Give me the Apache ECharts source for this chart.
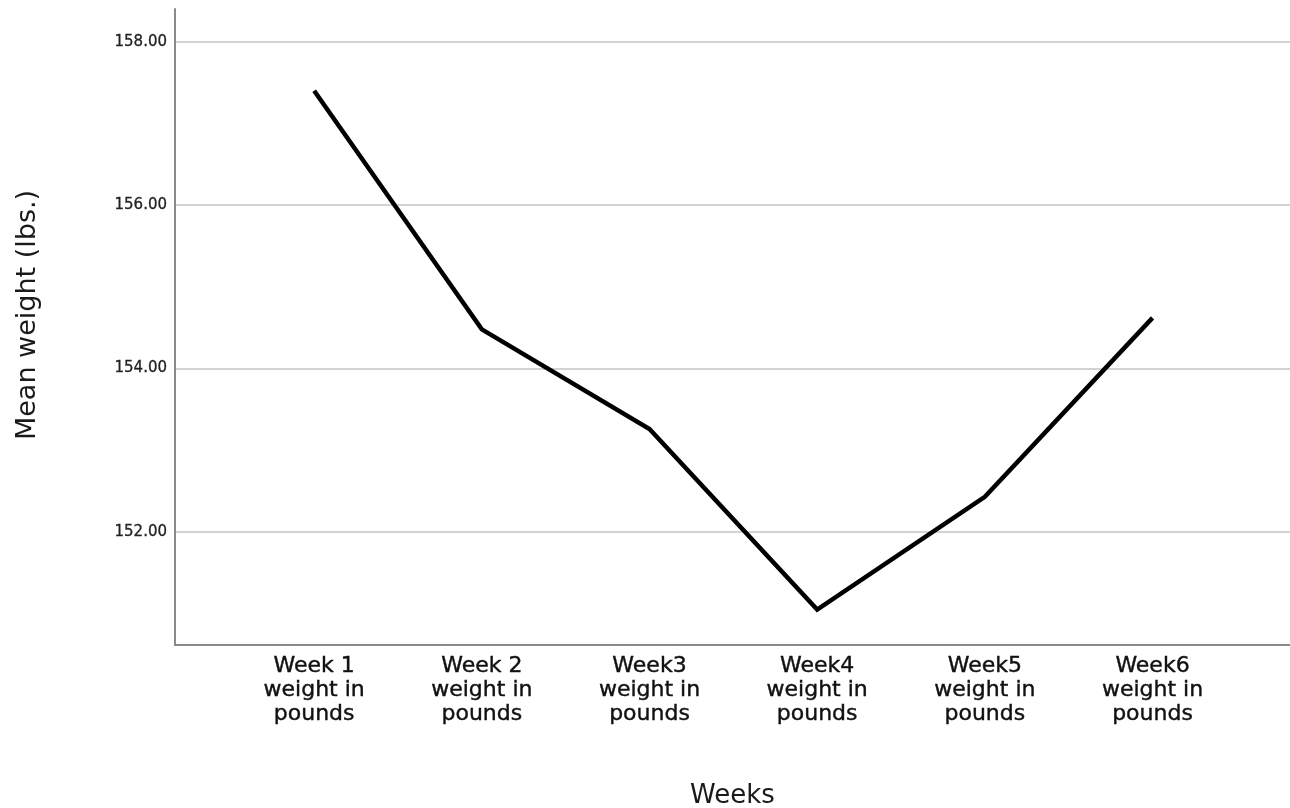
<!DOCTYPE html>
<html>
<head>
<meta charset="utf-8">
<script src="https://cdn.jsdelivr.net/npm/echarts@6/dist/echarts.min.js"></script>
<style>
html,body{margin:0;padding:0;background:#fff;}
#chart{width:1290px;height:808px;}
</style>
</head>
<body>
<div id="chart"></div>
<script>
const categories = [
  'Week 1\nweight in\npounds',
  'Week 2\nweight in\npounds',
  'Week3\nweight in\npounds',
  'Week4\nweight in\npounds',
  'Week5\nweight in\npounds',
  'Week6\nweight in\npounds'
];
const meanWeight = [157.40, 154.48, 153.26, 151.05, 152.43, 154.62];
const yTicks = [152, 154, 156, 158];
const xTicks = categories.map((c, i) => i + 1);

const chart = echarts.init(document.getElementById('chart'), null, {renderer: 'canvas'});
const fontFamily = '"DejaVu Sans", sans-serif';

chart.setOption({
  animation: false,
  backgroundColor: '#ffffff',
  grid: {left: 175, right: 0, top: 9, bottom: 163, containLabel: false, outerBoundsMode: 'none'},
  xAxis: {
    type: 'value',
    min: 0.17,
    max: 6.82,
    name: 'Weeks',
    nameLocation: 'middle',
    nameGap: 138,
    nameTextStyle: {fontFamily: fontFamily, fontSize: 26, color: '#1a1a1a'},
    axisLine: {show: true, lineStyle: {color: '#8a8a8a', width: 2}},
    axisTick: {show: false, customValues: xTicks},
    splitLine: {show: false},
    axisLabel: {
      customValues: xTicks,
      formatter: v => categories[Math.round(v) - 1] || '',
      fontFamily: fontFamily,
      fontSize: 22,
      lineHeight: 24,
      color: '#111',
      textBorderColor: '#111',
      textBorderWidth: 0.4,
      margin: 9,
      align: 'center'
    }
  },
  yAxis: {
    type: 'value',
    min: 150.617,
    max: 158.40,
    name: 'Mean weight (lbs.)',
    nameLocation: 'middle',
    nameRotate: 90,
    nameGap: 134,
    nameTextStyle: {fontFamily: fontFamily, fontSize: 27, color: '#1a1a1a', padding: [0, 0, 0, 24]},
    axisLine: {show: true, lineStyle: {color: '#8a8a8a', width: 2}},
    axisTick: {show: false, customValues: yTicks},
    splitLine: {show: true, lineStyle: {color: '#c4c4c4', width: 1.5}},
    axisLabel: {
      customValues: yTicks,
      formatter: v => v.toFixed(2),
      fontFamily: fontFamily,
      fontSize: 15,
      color: '#222',
      textBorderColor: '#222',
      textBorderWidth: 0.3,
      margin: 8
    }
  },
  series: [{
    type: 'line',
    data: meanWeight.map((v, i) => [xTicks[i], v]),
    symbol: 'none',
    lineStyle: {color: '#000', width: 4.5, join: 'miter'},
    itemStyle: {color: '#000'}
  }]
});
</script>
</body>
</html>
